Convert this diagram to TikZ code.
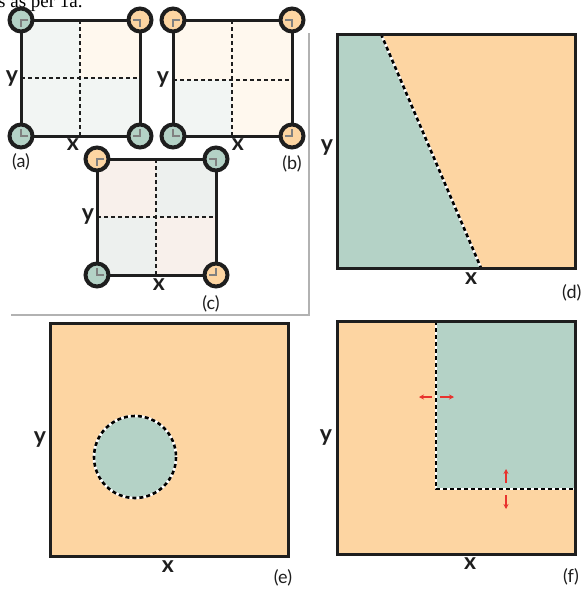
\documentclass[tikz,border=0pt]{standalone}
\usepackage{fontspec}
\setmainfont{Lato}
\newfontfamily\bodyfont{Liberation Serif}
\usetikzlibrary{arrows.meta}

\definecolor{edge}{HTML}{1E1E1E}
\definecolor{phasegreen}{HTML}{B4D2C6}
\definecolor{phaseorange}{HTML}{FDD5A2}
\definecolor{cellgreen}{HTML}{F2F5F3}
\definecolor{cellorange}{HTML}{FFF8EE}
\definecolor{cellpink}{HTML}{F8F0EB}
\definecolor{cellgrey}{HTML}{EDF0EE}
\definecolor{pushred}{HTML}{E8332E}

\begin{document}
\begin{tikzpicture}[
  x=1pt, y=-1pt,
  axis/.style={font=\bfseries\fontsize{23}{23}\selectfont, text=edge, inner sep=0pt},
  tag/.style={font=\fontsize{18}{18}\selectfont, text=edge, inner sep=0pt},
  frame/.style={draw=edge, line width=3pt},
  grid/.style={draw=edge, line width=1.8pt, dash pattern=on 4pt off 3pt},
  corner/.style={draw=edge, line width=4pt},
  tick/.style={draw=gray, line width=2.4pt},
  gap/.style={draw=white, line width=2.6pt},
  front/.style={draw=black, line width=2.6pt, dash pattern=on 4pt off 3pt},
  push/.style={-{Stealth[length=5pt,width=5pt]}, draw=pushred, line width=1.3pt},
  box/.style={draw=gray!60, line width=1.2pt}
]
\useasboundingbox (0,0) rectangle (582,589);

% cut-off caption line at the top
\node[font=\bodyfont\fontsize{19}{19}\selectfont, anchor=base west, inner sep=0pt] (cap) at (-2,7) {s as per 1a.};

% grey frame round (a)-(c)
\draw[box] (309,33) -- (309,315) -- (11,315);

% === PANEL (a) ===
\fill[cellgreen] (21,20) rectangle (140,136);
\fill[cellorange] (80,20) rectangle (140,78);
\draw[grid] (80,20) -- (80,136);
\draw[grid] (21,78) -- (140,78);
\draw[frame] (21,20) rectangle (140,136);
\foreach \cx/\cy/\sx/\sy/\col in {21/20/1/1/phasegreen, 140/20/-1/1/phaseorange,
                                  21/136/1/-1/phasegreen, 140/136/-1/-1/phasegreen}{
  \filldraw[corner, fill=\col] (\cx,\cy) circle (11.5);
  \draw[tick] (\cx+\sx*7,\cy) -- (\cx,\cy) -- (\cx,\cy+\sy*7);
}
\node[axis] (ya) at (12,79) {y};
\node[axis] (xa) at (73,145) {x};
\node[tag] (ta) at (21,162) {(a)};

% === PANEL (b) ===
\fill[cellorange] (173,20) rectangle (292,136);
\fill[cellgreen] (173,80) rectangle (232,136);
\draw[grid] (232,20) -- (232,136);
\draw[grid] (173,80) -- (292,80);
\draw[frame] (173,20) rectangle (292,136);
\foreach \cx/\cy/\sx/\sy/\col in {173/20/1/1/phaseorange, 292/20/-1/1/phaseorange,
                                  173/136/1/-1/phasegreen, 292/136/-1/-1/phaseorange}{
  \filldraw[corner, fill=\col] (\cx,\cy) circle (11.5);
  \draw[tick] (\cx+\sx*7,\cy) -- (\cx,\cy) -- (\cx,\cy+\sy*7);
}
\node[axis] (yb) at (163,80) {y};
\node[axis] (xb) at (238,145) {x};
\node[tag] (tb) at (292,164) {(b)};

% === PANEL (c) ===
\fill[cellpink] (97,159) rectangle (216,275);
\fill[cellgrey] (156,159) rectangle (216,217);
\fill[cellgrey] (97,217) rectangle (156,275);
\draw[grid] (156,159) -- (156,275);
\draw[grid] (97,217) -- (216,217);
\draw[frame] (97,159) rectangle (216,275);
\foreach \cx/\cy/\sx/\sy/\col in {97/159/1/1/phaseorange, 216/159/-1/1/phasegreen,
                                  97/275/1/-1/phasegreen, 216/275/-1/-1/phaseorange}{
  \filldraw[corner, fill=\col] (\cx,\cy) circle (11.5);
  \draw[tick] (\cx+\sx*7,\cy) -- (\cx,\cy) -- (\cx,\cy+\sy*7);
}
\node[axis] (yc) at (88,217) {y};
\node[axis] (xc) at (159,285) {x};
\node[tag] (tc) at (211,304) {(c)};

% === PANEL (d): planar front ===
\fill[phaseorange] (337,34) rectangle (575,268);
\fill[phasegreen] (337,34) -- (381,34) -- (481,268) -- (337,268) -- cycle;
\draw[gap] (381,34) -- (481,268);
\draw[front] (381,34) -- (481,268);
\draw[frame] (337,34) rectangle (575,268);
\node[axis] (yd) at (327,148) {y};
\node[axis] (xd) at (471,279) {x};
\node[tag, anchor=west] (td) at (562,293) {(d)};

% === PANEL (e): circular inclusion ===
\fill[phaseorange] (50,323) rectangle (288,556);
\fill[phasegreen] (135,457) circle (41);
\draw[gap] (135,457) circle (41);
\draw[front] (135,457) circle (41);
\draw[frame] (50,323) rectangle (288,556);
\node[axis] (ye) at (40,440) {y};
\node[axis] (xe) at (168,567) {x};
\node[tag] (te) at (283,578) {(e)};

% === PANEL (f): moving corner front ===
\fill[phaseorange] (337,321) rectangle (575,554);
\fill[phasegreen] (436,321) rectangle (575,489);
\draw[gap] (436,321) -- (436,489) -- (575,489);
\draw[front] (436,321) -- (436,489) -- (575,489);
\draw[frame] (337,321) rectangle (575,554);
\draw[push] (432,397) -- (419,397);
\draw[push] (440,397) -- (454,397);
\draw[push] (506,483) -- (506,469);
\draw[push] (506,495) -- (506,509);
\node[axis] (yf) at (326,438) {y};
\node[axis] (xf) at (470,564) {x};
\node[tag] (tf) at (571,577) {(f)};

\end{tikzpicture}
\end{document}
